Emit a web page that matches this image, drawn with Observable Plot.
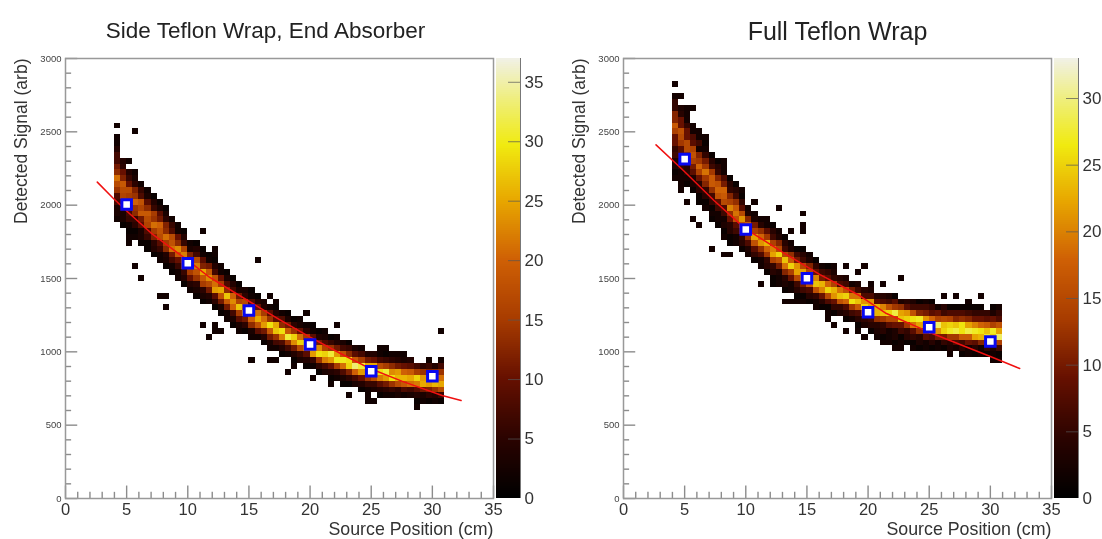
<!DOCTYPE html>
<html>
<head>
<meta charset="utf-8">
<script src="https://cdn.jsdelivr.net/npm/d3@7"></script>
<script src="https://cdn.jsdelivr.net/npm/@observablehq/plot@0.6"></script>
<style>
html,body{margin:0;padding:0;background:#fff;}
#page{position:relative;width:1102px;height:539px;overflow:hidden;}
#page svg{position:absolute;top:0;filter:blur(0.6px);font-family:"Liberation Sans",Arial,sans-serif;background:transparent;}
</style>
</head>
<body>
<div id="page"></div>
<script>
// ---- shared axis values ----
const xTicks = [0,5,10,15,20,25,30,35];
const xMinor = [1,2,3,4,6,7,8,9,11,12,13,14,16,17,18,19,21,22,23,24,26,27,28,29,31,32,33,34];
const yTicks = [0,500,1000,1500,2000,2500,3000];
const yMinor = [100,200,300,400,600,700,800,900,1100,1200,1300,1400,1600,1700,1800,1900,2100,2200,2300,2400,2600,2700,2800,2900];
const markerX = [5,10,15,20,25,30];
const colBase = 4, colWidth = 0.5, binHeight = 40;
const paletteStops = [0,0.135,0.27,0.405,0.54,0.676,0.8,0.9,1];
const paletteColors = ["#000000","#2b0300","#661000","#a83c00","#cf6005","#e8a800","#f0ea10","#efee78","#f1f1ea"];

// ---- left panel: Side Teflon Wrap, End Absorber ----
const leftTitle = "Side Teflon Wrap, End Absorber";
const leftMax = 37;
const leftBarTicks = [0,5,10,15,20,25,30,35];
const leftMarkerY = [2005,1604,1282,1050,868,834];
const leftFitX = [2.6,3.9,5,7,10,11.8,14.9,17.5,20,22.3,24.9,27.5,30.8,32.35];
const leftFitY = [2157,2047,1960,1810,1623,1507,1350,1220,1100,997,886,800,702,668];
const leftStart = [47,46,45,44,43,42,41,40,39,38,37,36,35,34,33,33,32,31,30,29,28,28,27,27,26,25,25,24,24,23,23,22,22,21,21,20,20,19,19,19,18,18,18,17,17,17,17,17,17,16,16,16,16,16];
const leftCounts = [
[2,3,3,7,8,14,17,21,13,11,7,7,4,2],
[1,3,3,7,9,16,17,19,12,10,5,4],
[1,2,6,7,13,18,15,17,10,6,4],
[2,1,5,6,13,14,20,14,12,5,3],
[1,3,3,9,11,19,16,18,8,6,2],
[1,1,6,8,16,17,19,13,9,3,2],
[1,4,5,12,15,21,14,15,6,4,1],
[2,2,6,9,17,18,20,11,9,3,1],
[1,3,4,13,15,21,13,12,5,3,1],
[1,2,7,11,21,18,17,8,6,2],
[2,2,6,10,19,23,13,10,3,2],
[1,4,6,16,18,22,16,6,4,1],
[2,4,10,15,25,16,12,3,2],
[1,3,5,14,18,22,17,7,4,1],
[1,3,5,15,19,25,12,9,2,1],
[2,4,11,17,23,19,11,5,1],
[1,5,9,24,21,18,7,4,1],
[1,3,11,18,25,15,10,2,2],
[2,2,11,19,27,13,8,3,1],
[1,3,7,20,23,20,7,4,1],
[2,3,9,15,27,16,11,3,1],
[1,5,11,25,21,17,5,3],
[2,3,13,20,27,12,8,2,1],
[2,9,18,25,21,10,4,1],
[1,4,11,24,21,15,4,3],
[2,3,11,19,29,14,9,2],
[2,7,14,27,25,9,4,1],
[1,4,8,22,29,13,8,2],
[2,7,14,31,19,11,3,1],
[1,4,11,23,28,14,5,1],
[3,6,17,28,21,10,3,1],
[1,4,9,22,29,15,5,2],
[2,6,24,27,16,9,2,1],
[1,5,14,29,23,11,4,1],
[3,7,22,28,16,8,3],
[1,4,10,24,31,14,6,1],
[2,5,15,30,24,11,4],
[1,3,8,21,30,18,7,3],
[1,5,12,28,29,13,6,1],
[3,7,20,33,19,9,3],
[1,4,10,24,31,15,7,2],
[2,6,14,30,25,11,4],
[3,6,17,27,25,10,4],
[1,4,9,22,29,17,7,2],
[2,5,11,24,31,15,6,1],
[1,6,14,29,23,13,5,2],
[3,5,17,26,24,11,4],
[2,8,19,26,20,10,3],
[3,7,21,25,19,9,4],
[1,4,9,22,28,15,7],
[2,3,11,25,24,14,5],
[1,5,12,24,26,12,6],
[2,4,14,26,23,13,4],
[1,6,17,25,21,14,7]
];
const leftStrayX = [4,4,5.5,5,5.5,9,9,11,12,12,11.5,15.5,5.5,6,5,5,8,7.5,8,11,12,12,12.5,11.5,19.5,19,16.5,17,21,22,15,16.5,17,18,18.5,20,21.5,22,30.5,26,25.5,27.5,27,30.5,29.5,23,24.5,24.5,25,26.5,28.5];
const leftStrayY = [2531,2459,2486,2310,2228,1857,1817,1806,1686,1645,1604,1604,1588,1509,1725,1788,1384,1384,1305,1186,1186,1145,1145,1104,1263,1227,1364,1329,1145,1166,947,947,947,868,907,805,766,1107,1145,1025,1025,988,988,947,947,702,702,668,668,702,622];

// ---- right panel: Full Teflon Wrap ----
const rightTitle = "Full Teflon Wrap";
const rightMax = 33;
const rightBarTicks = [0,5,10,15,20,25,30];
const rightMarkerY = [2314,1834,1502,1270,1168,1070];
const rightFitX = [2.66,4.9,7.4,9.95,13,16.07,19.3,21.5,25,26.7,30,32.4];
const rightFitY = [2411,2236,2032,1840,1680,1527,1384,1261,1134,1077,968,886];
const rightStart = [54,53,53,52,50,49,47,46,44,43,43,42,41,40,39,38,36,36,35,35,34,33,33,32,32,31,31,31,30,30,29,29,28,28,27,27,26,26,26,25,25,25,25,25,25,25,25,24,24,24,24,24,24,24];
const rightCounts = [
[2,1,3,3,6,5,9,9,14,17,11,11,5,5,2],
[1,2,2,5,5,8,8,13,15,16,9,9,4,3],
[1,2,4,4,9,12,15,15,9,9,5,5,2],
[1,3,3,8,10,14,16,14,8,7,2,2],
[1,1,4,4,9,14,18,13,11,6,6,2,1],
[2,1,4,5,11,13,19,13,10,5,4,1],
[1,2,1,5,6,12,17,17,13,6,4,1],
[1,2,2,6,8,16,18,16,11,5,4,1],
[2,1,3,2,6,7,15,17,18,10,7,2,1],
[1,1,4,4,9,12,20,14,11,5,4,1],
[2,2,6,8,16,19,17,12,6,4,1],
[1,4,5,12,16,21,15,8,5,1],
[2,3,7,12,20,17,11,3,2],
[1,5,8,16,22,14,10,3,2],
[2,2,7,12,21,18,12,4,2],
[1,4,5,13,18,23,13,8,2,2],
[1,1,4,5,14,22,20,14,6,4,1],
[2,2,3,10,16,25,15,11,3,2],
[1,3,4,11,19,24,15,6,4,1],
[2,2,9,14,25,17,12,3,2],
[1,4,6,15,22,21,10,6,1],
[2,1,6,10,21,22,15,6,4,1],
[1,4,7,17,23,15,11,3,2],
[2,2,5,16,24,20,9,5,1],
[1,4,9,20,23,10,6,2],
[2,1,7,15,25,18,8,5,1],
[1,5,9,21,23,14,5,3],
[3,5,16,24,19,7,4],
[1,4,7,18,25,16,6,3],
[2,6,13,26,19,10,2],
[1,4,7,17,24,19,6,3],
[3,5,15,25,21,7,4],
[1,4,6,14,22,21,7,3],
[3,4,12,23,23,8,4],
[1,4,5,13,24,20,7,4],
[2,2,8,15,25,16,6,3],
[1,3,3,9,15,28,13,8,1],
[2,1,6,9,24,22,12,3],
[1,4,5,13,25,21,8,4],
[2,1,5,8,19,26,16,6,3],
[1,3,4,12,22,27,11,6,1],
[2,2,8,13,27,21,10,6,2],
[1,4,7,19,28,18,8,5,1],
[2,2,10,21,29,14,9,2],
[1,5,10,25,24,15,6,4],
[3,4,13,27,25,14,7,1],
[2,7,13,28,24,11,7,1],
[1,4,6,17,26,26,12,7,1],
[2,2,9,17,28,22,11,6,1],
[1,4,8,22,27,20,9,5,1],
[2,2,11,23,26,18,9,5,1],
[1,5,10,27,24,17,8,5],
[2,3,13,25,27,14,9,3,1],
[1,6,14,29,22,16,7,5,1]
];
const rightStrayX = [4,4.5,5,5.5,5,6,6.5,6.5,6,8,8,9.5,10.5,12.5,14.5,14.5,14.5,13.5,7,8.5,8,4.5,4.5,4.5,5,5.5,6,11,13.5,13,14,16.5,19.5,22.5,17,18,19,19.5,20.5,21,21.5,22,22.5,22.5,17,18,19,20,21,26,27,28,29,30.5,26.5,30.5,30,29];
const rightStrayY = [2800,2741,2668,2641,2590,2509,2457,2388,2388,2286,2243,2107,2018,1970,1950,1868,1827,1827,1707,1645,1645,2188,2148,2107,2032,1909,1868,1445,1329,1329,1345,1214,1566,1486,1186,1127,1127,1090,1090,1050,1066,1029,1029,1004,1566,1566,1534,1465,1465,1377,1363,1357,1363,1309,963,922,947,968];

// ---- drawing ----
const strayCount = 2;
function buildCells(starts, counts, strayX, strayY) {
  const cells = [];
  counts.forEach((col, i) => col.forEach((count, k) => {
    const x = colBase + i * colWidth, bin = starts[i] + k;
    cells.push({x, bin, count});
  }));
  strayX.forEach((x, i) => cells.push({x, bin: Math.floor(strayY[i] / binHeight), count: strayCount}));
  return cells;
}
function colorScale(max) {
  return {type: "linear", domain: paletteStops.map(s => s * max), range: paletteColors, clamp: true};
}
function panel(title, titleSize, titleShift, max, starts, counts, strayX, strayY, fitX, fitY, markerY) {
  const cells = buildCells(starts, counts, strayX, strayY);
  const ax = "#8c8c8c";
  return Plot.plot({
    width: 520, height: 539,
    marginLeft: 65, marginRight: 27, marginTop: 58, marginBottom: 41,
    x: {domain: [0, 35]},
    y: {domain: [0, 3000]},
    color: colorScale(max),
    marks: [
      Plot.rect(cells, {
        x1: "x", x2: d => d.x + colWidth,
        y1: d => d.bin * binHeight, y2: d => (d.bin + 1) * binHeight,
        fill: "count", shapeRendering: "crispEdges"
      }),
      Plot.line(fitX.map((x, i) => [x, fitY[i]]), {x: "0", y: "1", stroke: "#f01010", strokeWidth: 1.5}),
      Plot.dot(markerX.map((x, i) => [x, markerY[i]]), {
        x: "0", y: "1", symbol: "square", r: 5.4, fill: "#ffffff", stroke: "#0808f0", strokeWidth: 3
      }),
      Plot.ruleX(xTicks, {x: d => d, y1: 0, y2: 85, stroke: ax, strokeWidth: 1.4}),
      Plot.ruleX(xMinor, {x: d => d, y1: 0, y2: 42, stroke: ax, strokeWidth: 1.4}),
      Plot.ruleY(yTicks, {y: d => d, x1: 0, x2: 1, stroke: ax, strokeWidth: 1.4}),
      Plot.ruleY(yMinor, {y: d => d, x1: 0, x2: 0.5, stroke: ax, strokeWidth: 1.4}),
      Plot.frame({stroke: "#999999", strokeWidth: 1.5}),
      Plot.axisX({ticks: xTicks, tickSize: 0, tickPadding: 5, label: null, fontSize: 16.5, tickFormat: d => String(d), color: "#333"}),
      Plot.axisY({ticks: yTicks, tickSize: 0, tickPadding: 4, label: null, fontSize: 9.5, tickFormat: d => String(d), color: "#444"}),
      Plot.text([title], {frameAnchor: "top", dx: titleShift, dy: -36, fontSize: titleSize, fill: "#222", text: d => d}),
      Plot.text(["Source Position (cm)"], {frameAnchor: "bottom-right", dy: 36, fontSize: 17.8, fill: "#333", textAnchor: "end", text: d => d}),
      Plot.text(["Detected Signal (arb)"], {frameAnchor: "top-left", dx: -51, dy: 0, rotate: -90, fontSize: 17.5, fill: "#333", textAnchor: "end", text: d => d})
    ]
  });
}
function colorBar(max, ticks) {
  const steps = d3.range(0, max, max / 220);
  return Plot.plot({
    width: 70, height: 539,
    marginLeft: 6, marginRight: 40, marginTop: 58, marginBottom: 41,
    x: {domain: [0, 1], axis: null},
    y: {domain: [0, max]},
    color: colorScale(max),
    marks: [
      Plot.rect(steps, {x1: 0, x2: 1, y1: d => d, y2: d => d + max / 220 * 1.2, fill: d => d, shapeRendering: "crispEdges"}),
      Plot.ruleY(ticks.filter(t => t > 0), {y: d => d, x1: 0.5, x2: 1, stroke: "#555", strokeOpacity: 0.7}),
      Plot.ruleX([1], {stroke: "#777", strokeWidth: 1}),
      Plot.axisY({anchor: "right", ticks, tickSize: 0, tickPadding: 4, label: null, fontSize: 17, tickFormat: d => String(d), color: "#333"})
    ]
  });
}
function place(svg, left) {
  svg.style.left = left + "px";
  document.getElementById("page").appendChild(svg);
}
place(panel(leftTitle, 22.5, -14, leftMax, leftStart, leftCounts, leftStrayX, leftStrayY, leftFitX, leftFitY, leftMarkerY), 0);
place(colorBar(leftMax, leftBarTicks), 490);
place(panel(rightTitle, 25, 0, rightMax, rightStart, rightCounts, rightStrayX, rightStrayY, rightFitX, rightFitY, rightMarkerY), 558);
place(colorBar(rightMax, rightBarTicks), 1048);
</script>
</body>
</html>
